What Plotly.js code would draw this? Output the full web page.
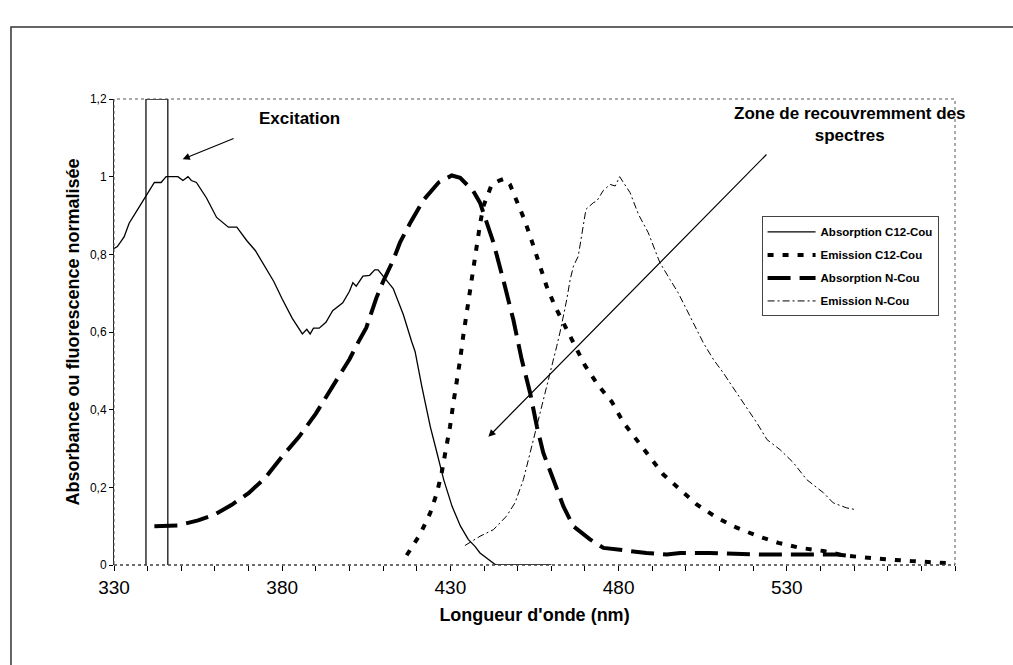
<!DOCTYPE html>
<html>
<head>
<meta charset="utf-8">
<script src="https://cdn.plot.ly/plotly-3.0.1.min.js"></script>
<style>html,body{margin:0;padding:0;background:#fff;}#chart{width:1013px;height:665px;}</style>
</head>
<body>
<div id="chart"></div>
<script>
// ---- data ----
const seriesNames = ["Absorption C12-Cou", "Emission C12-Cou", "Absorption N-Cou", "Emission N-Cou"];

const absC12X = [330,331,333,334.5,337,340,342,344,345.5,349,350.5,352,353,354.5,357.5,360.5,362,364,366.5,369.5,372,374.5,377.5,380,383,386,387.3,388.3,389.3,391,393,395,398,400,401,402,404,406,407.5,408.5,410,411.5,413,414,416,418.5,419.5,421.5,424,426,428,430.5,433,435.3,437.3,438.8,440.8,442.8,443.5,460];
const absC12Y = [0.815,0.82,0.845,0.88,0.915,0.955,0.985,0.985,1.0,1.0,0.99,1.0,0.99,0.985,0.945,0.895,0.885,0.87,0.87,0.835,0.81,0.775,0.73,0.685,0.635,0.595,0.607,0.595,0.61,0.61,0.625,0.655,0.675,0.705,0.727,0.718,0.744,0.746,0.76,0.76,0.745,0.728,0.712,0.69,0.645,0.575,0.55,0.46,0.357,0.289,0.22,0.151,0.1,0.066,0.048,0.031,0.018,0.006,0,0];

const emC12X = [417,421,424,426,427.4,428.9,429.9,430.9,431.9,432.9,433.8,434.8,435.8,436.8,437.8,438.8,439.8,442.3,444.5,446.2,447.7,449.7,452.2,454.2,456.2,458.6,461.1,463.6,467,470,474,478,481.5,485.4,489.3,493.3,498.3,503.2,509.2,515.1,521.5,527.5,534,540.9,547.3,554,560.7,567.1,573.5,580];
const emC12Y = [0.025,0.079,0.134,0.186,0.237,0.306,0.357,0.418,0.469,0.529,0.589,0.65,0.701,0.761,0.821,0.877,0.924,0.98,0.99,0.995,0.98,0.937,0.885,0.834,0.778,0.718,0.666,0.624,0.565,0.514,0.462,0.42,0.366,0.323,0.276,0.233,0.194,0.156,0.122,0.096,0.074,0.057,0.044,0.036,0.024,0.018,0.014,0.01,0.007,0.004];

const absNX = [342,349,355,360,365,370,375,380,385,390,395,400,402.5,405,408,410,413,415,418,422,426.5,430.4,432.9,436.8,438.8,442.8,445.7,448.7,451.2,453.7,455.7,457.6,460.6,463.6,466.5,471.5,475.5,482.4,488.3,494.3,498.3,507,522,534,545,549];
const absNY = [0.1,0.102,0.115,0.13,0.155,0.185,0.225,0.28,0.33,0.39,0.46,0.53,0.572,0.611,0.688,0.73,0.785,0.83,0.88,0.94,0.985,1.003,0.997,0.963,0.933,0.83,0.735,0.632,0.529,0.443,0.357,0.289,0.22,0.151,0.1,0.066,0.044,0.036,0.031,0.027,0.031,0.031,0.027,0.027,0.027,0.023];

const emNX = [434.3,438.8,442.8,446.7,449.2,451.7,453.7,455.7,457.6,459.6,461.6,462.6,463.6,464.6,465.6,466.6,468,470.3,472.5,473.5,475.5,477.5,479,480.3,483.4,485.9,488.8,492.3,495.3,497.7,501.2,505.2,508.2,511.1,515.1,518.1,521.1,524.1,528,532,535.9,540.9,543.8,547.8,550.3];
const emNY = [0.05,0.074,0.091,0.126,0.16,0.22,0.289,0.357,0.426,0.495,0.563,0.6,0.641,0.684,0.735,0.77,0.795,0.916,0.933,0.937,0.965,0.98,0.976,1.0,0.959,0.903,0.856,0.778,0.735,0.701,0.641,0.572,0.529,0.495,0.443,0.405,0.366,0.323,0.297,0.263,0.22,0.186,0.16,0.147,0.143];

// excitation window (rectangle)
const excitationX = [339.5, 339.5, 346, 346];
const excitationY = [0, 1.2, 1.2, 0];

// axis labels
const xTickVals = [330, 380, 430, 480, 530];
const xTickText = ["330", "380", "430", "480", "530"];

const FONT = "Liberation Sans, Arial, sans-serif";

const traces = [
  {x: excitationX, y: excitationY, mode: "lines", line: {color: "#111", width: 1.3}, showlegend: false, hoverinfo: "skip"},
  {x: absC12X, y: absC12Y, name: seriesNames[0], legendgroup: "a", mode: "lines", line: {color: "#000", width: 1.3}},
  {x: emC12X, y: emC12Y, name: seriesNames[1], legendgroup: "b", mode: "lines", line: {color: "#000", width: 4, dash: "6px,9px"}},
  {x: absNX, y: absNY, name: seriesNames[2], legendgroup: "c", mode: "lines", line: {color: "#000", width: 4, dash: "23px,9px"}},
  {x: emNX, y: emNY, name: seriesNames[3], legendgroup: "d", mode: "lines", line: {color: "#000", width: 1, dash: "7px,3px,2px,3px"}}
];

const layout = {
  width: 1013, height: 665,
  margin: {l: 114, r: 58, t: 99, b: 100, pad: 0},
  paper_bgcolor: "#fff", plot_bgcolor: "#fff",
  separators: ", ",
  font: {family: FONT, color: "#000"},
  showlegend: true,
  legend: {
    x: 0.770, y: 0.748, xanchor: "left", yanchor: "top",
    bgcolor: "#fff", bordercolor: "#444", borderwidth: 1,
    font: {family: FONT, size: 11.5, color: "#000", weight: "bold"},
    tracegroupgap: 4, itemwidth: 48
  },
  xaxis: {
    range: [330, 580], tickvals: xTickVals, ticktext: xTickText,
    ticks: "outside", ticklen: 5, tickcolor: "#000", tickwidth: 1,
    minor: {dtick: 10, tick0: 330, ticks: "outside", ticklen: 5, tickcolor: "#000", tickwidth: 1, showgrid: false},
    showgrid: false, zeroline: false, showline: false,
    tickfont: {family: FONT, size: 19, color: "#000"},
    title: {text: "<b>Longueur d'onde (nm)</b>", font: {family: FONT, size: 18, color: "#000"}, standoff: 11}
  },
  yaxis: {
    range: [0, 1.2], dtick: 0.2, tick0: 0,
    ticks: "outside", ticklen: 4, tickcolor: "#000", tickwidth: 1,
    showgrid: false, zeroline: false, showline: true, linecolor: "#222", linewidth: 1,
    tickfont: {family: FONT, size: 12, color: "#000"},
    title: {text: "<b>Absorbance ou fluorescence normalisée</b>", font: {family: FONT, size: 18, color: "#000"}, standoff: 5}
  },
  shapes: [
    {type: "rect", xref: "paper", yref: "paper", x0: 0, x1: 1, y0: 0, y1: 1, line: {color: "#555", width: 1, dash: "dot"}, layer: "above"},
    {type: "line", xref: "paper", yref: "paper", x0: 0, x1: 1, y0: 0, y1: 0, line: {color: "#333", width: 1, dash: "dot"}, layer: "above"},
    {type: "rect", xref: "paper", yref: "paper", x0: -0.1225, x1: 1.2, y0: -0.5, y1: 1.1545, line: {color: "#333", width: 1.5}, layer: "below"}
  ],
  annotations: [
    {xref: "x", yref: "y", x: 385, y: 1.149, text: "<b>Excitation</b>", showarrow: false, font: {family: FONT, size: 17, color: "#000"}},
    {xref: "x", yref: "y", x: 548.5, y: 1.135, text: "<b>Zone de recouvremment des<br>spectres</b>", showarrow: false, align: "center", font: {family: FONT, size: 17, color: "#000"}},
    {xref: "x", yref: "y", x: 350.4, y: 1.045, axref: "x", ayref: "y", ax: 366, ay: 1.1, text: "", showarrow: true, arrowhead: 2, arrowsize: 1.2, arrowwidth: 1.2, arrowcolor: "#000"},
    {xref: "x", yref: "y", x: 441.3, y: 0.33, axref: "x", ayref: "y", ax: 524.4, ay: 1.061, text: "", showarrow: true, arrowhead: 2, arrowsize: 1.2, arrowwidth: 1.2, arrowcolor: "#000"}
  ]
};

Plotly.newPlot("chart", traces, layout, {displayModeBar: false, staticPlot: true});
</script>
</body>
</html>
